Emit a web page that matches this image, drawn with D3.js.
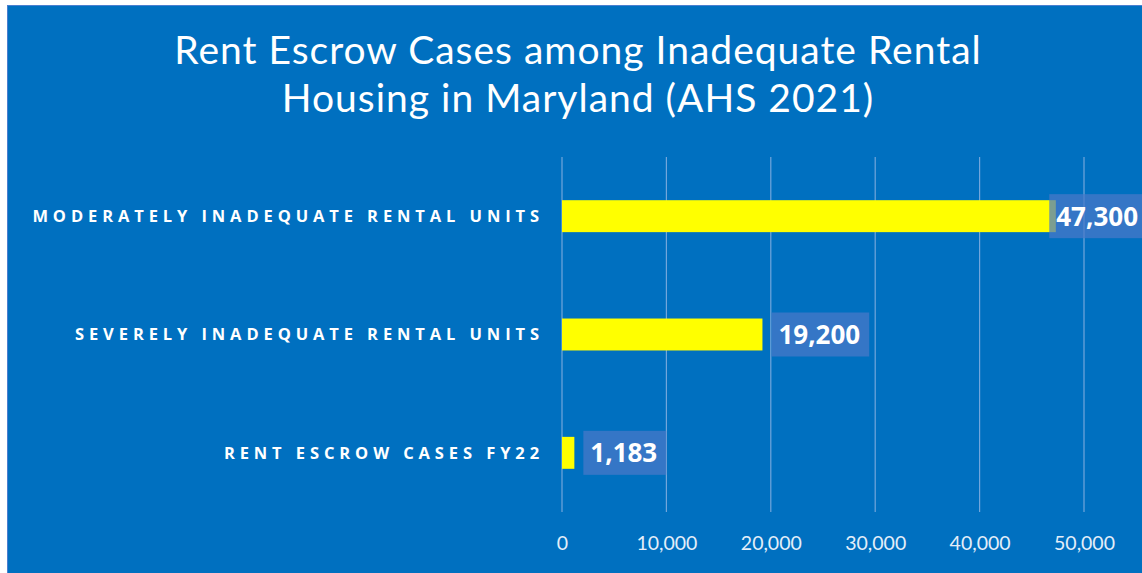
<!DOCTYPE html>
<html>
<head>
<meta charset="utf-8">
<script src="https://cdn.jsdelivr.net/npm/d3@7"></script>
<style>
  html, body { margin: 0; padding: 0; background: #ffffff; }
  svg { display: block; }
</style>
</head>
<body>
<svg id="chart" width="1142" height="573"></svg>
<script>
// chart data
var categories = ["MODERATELY INADEQUATE RENTAL UNITS", "SEVERELY INADEQUATE RENTAL UNITS", "RENT ESCROW CASES FY22"];
var values = [47300, 19200, 1183];
var tickValues = [0, 10000, 20000, 30000, 40000, 50000];
var titleLines = ["Rent Escrow Cases among Inadequate Rental", "Housing in Maryland (AHS 2021)"];

var W = 1142, H = 573;
var svg = d3.select("#chart");

// frame
svg.append("rect").attr("x", 7).attr("y", 5).attr("width", W - 7).attr("height", H - 5)
    .attr("fill", "#0070C0");
svg.append("line").attr("x1", 7.5).attr("x2", 7.5).attr("y1", 5).attr("y2", H)
    .attr("stroke", "#4a7fd0").attr("stroke-width", 1);
svg.append("line").attr("x1", 7).attr("x2", W).attr("y1", 5.5).attr("y2", 5.5)
    .attr("stroke", "#4a7fd0").attr("stroke-width", 1);

// title
svg.append("text")
    .attr("x", 578).attr("y", 64)
    .attr("text-anchor", "middle")
    .attr("fill", "#ffffff")
    .style("font-family", "Lato, 'Open Sans', sans-serif")
    .style("font-size", "39px")
    .style("letter-spacing", "1px")
    .selectAll("tspan").data(titleLines).enter().append("tspan")
    .attr("x", 578).attr("dy", function (d, i) { return i === 0 ? 0 : 48; })
    .text(function (d) { return d; });

var plot = { left: 562, right: 1084, top: 157, bottom: 512 };

var x = d3.scaleLinear().domain([0, 50000]).range([plot.left, plot.right]);
var y = d3.scaleBand().domain(categories).range([plot.top, plot.bottom]).paddingInner(0.73).paddingOuter(0.365);

// gridlines
svg.append("g").selectAll("line").data(tickValues).enter().append("line")
    .attr("x1", function (d) { return x(d); })
    .attr("x2", function (d) { return x(d); })
    .attr("y1", plot.top).attr("y2", plot.bottom)
    .attr("stroke", "#8fb4e3").attr("stroke-width", 1.2).attr("opacity", 0.8);

// x axis labels
var xAxis = d3.axisBottom(x).tickValues(tickValues).tickSize(0).tickPadding(0)
    .tickFormat(d3.format(","));
var gx = svg.append("g").attr("transform", "translate(0," + 536 + ")").call(xAxis);
gx.select(".domain").remove();
gx.selectAll("text")
    .attr("fill", "#e4eef9")
    .style("font-family", "Lato, 'Open Sans', sans-serif")
    .style("font-size", "19.5px");

// category labels
var yAxis = d3.axisLeft(y).tickSize(0).tickPadding(0);
var gy = svg.append("g").attr("transform", "translate(544,0)").call(yAxis);
gy.select(".domain").remove();
gy.selectAll("text")
    .attr("fill", "#ffffff")
    .attr("dy", "0.36em")
    .style("font-family", "'Open Sans', sans-serif")
    .style("font-weight", "bold")
    .style("font-size", "16.5px")
    .style("letter-spacing", "4.9px");

// bars
svg.append("g").selectAll("rect").data(values).enter().append("rect")
    .attr("x", x(0))
    .attr("y", function (d, i) { return y(categories[i]); })
    .attr("width", function (d) { return x(d) - x(0); })
    .attr("height", y.bandwidth())
    .attr("fill", "#FFFF00");

// data labels in boxes, pushed back over the bar if they would run off the right edge
var fmt = d3.format(",");
var lbl = svg.append("g").selectAll("g").data(values).enter().append("g");
lbl.append("text")
    .attr("dy", "0.36em")
    .attr("fill", "#ffffff")
    .style("font-family", "'Open Sans', sans-serif")
    .style("font-weight", "bold")
    .style("font-size", "26px")
    .text(function (d) { return fmt(d); });
lbl.each(function (d, i) {
    var g = d3.select(this);
    var t = g.select("text");
    var bb = t.node().getBBox();
    var padL = 7, padR = 9;
    var bw = bb.width + padL + padR;
    var left = Math.min(x(d) + 9, W + 5 - bw);
    var cy = y(categories[i]) + y.bandwidth() / 2;
    g.attr("transform", "translate(" + left + "," + cy + ")");
    t.attr("x", padL);
    g.insert("rect", "text")
        .attr("x", 0).attr("y", -22)
        .attr("width", bw).attr("height", 44)
        .attr("fill", "#4a78c8").attr("opacity", 0.72);
});
</script>
</body>
</html>
